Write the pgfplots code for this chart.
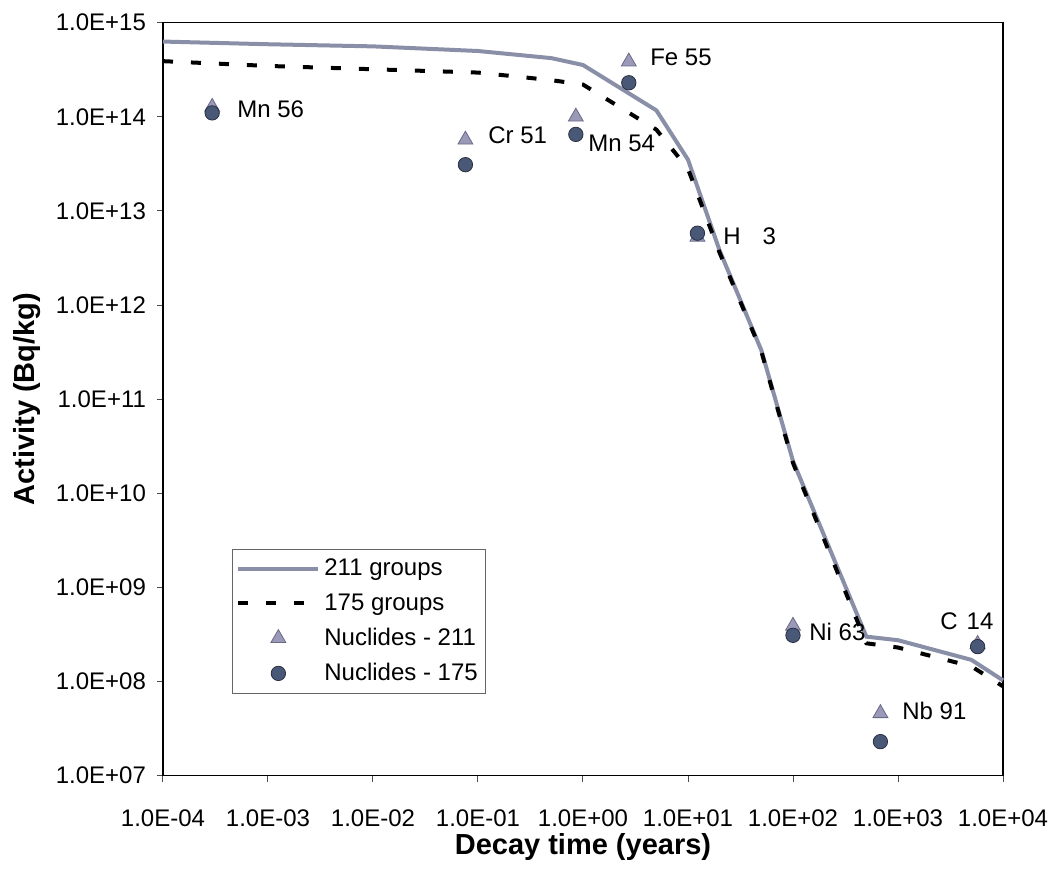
\documentclass[border=0pt]{standalone}
\usepackage{fontspec}
\setmainfont{Liberation Sans}
\usepackage{pgfplots}
\pgfplotsset{compat=1.18}
\definecolor{lineblue}{HTML}{8A8FA8}
\definecolor{trifill}{HTML}{9A9AB8}
\definecolor{tridraw}{HTML}{6A6A88}
\definecolor{circfill}{HTML}{4A5878}
\definecolor{circdraw}{HTML}{2A3040}
\begin{document}
\begin{tikzpicture}
\useasboundingbox (0,0) rectangle (527pt,435pt);
\begin{axis}[
  at={(81.5pt,47.15pt)}, anchor=south west,
  scale only axis, width=420pt, height=376.5pt,
  xmode=log, ymode=log,
  xmin=1e-4, xmax=1e4, ymin=1e7, ymax=1e15,
  axis line style={black, line width=0.8pt},
  tick align=outside, major tick length=3pt,
  xtick pos=bottom, ytick pos=left,
  minor tick num=0,
  xtick={1e-4,1e-3,1e-2,1e-1,1,1e1,1e2,1e3,1e4},
  xticklabels={1.0E-04,1.0E-03,1.0E-02,1.0E-01,1.0E+00,1.0E+01,1.0E+02,1.0E+03,1.0E+04},
  ytick={1e7,1e8,1e9,1e10,1e11,1e12,1e13,1e14,1e15},
  yticklabels={1.0E+07,1.0E+08,1.0E+09,1.0E+10,1.0E+11,1.0E+12,1.0E+13,1.0E+14,1.0E+15},
  xminorticks=false, yminorticks=false,
  tick style={black!70, line width=0.5pt},
  ticklabel style={font=\fontsize{12pt}{14pt}\selectfont},
  xticklabel style={yshift=-10.5pt},
  yticklabel style={xshift=-2pt},
  xlabel={Decay time (years)},
  ylabel={Activity (Bq/kg)},
  every axis x label/.style={at={(axis description cs:0.5,-0.0943)}, anchor=center,
    font=\bfseries\fontsize{14.5pt}{16pt}\selectfont},
  every axis y label/.style={at={(axis description cs:-0.162,0.5)}, rotate=90, anchor=center,
    font=\bfseries\fontsize{14.5pt}{16pt}\selectfont},
  legend style={at={(axis description cs:0.082,0.3015)}, anchor=north west,
    draw=black!60, line width=0.5pt, font=\fontsize{12pt}{14pt}\selectfont,
    inner xsep=2pt, inner ysep=3pt, row sep=3.4pt,
    cells={anchor=west}},
  legend image code/.code={\draw[mark repeat=2,mark phase=2,#1] plot coordinates {(0pt,0pt) (20pt,0pt) (40pt,0pt)};},
  clip=false,
]
\addplot[lineblue, line width=2pt, mark=none] coordinates {
(1e-4,6.3e14) (1e-3,5.9e14) (1e-2,5.6e14) (0.1,5.0e14) (0.5,4.2e14) (1,3.55e14)
(5,1.17e14) (10,3.5e13) (20,3.8e12) (50,3.3e11) (100,2.2e10) (500,3.0e8)
(1000,2.75e8) (5000,1.7e8) (10000,1.03e8)};
\addlegendentry{211 groups}
\addplot[black, line width=2pt, dash pattern=on 5pt off 9pt, mark=none] coordinates {
(1e-4,3.9e14) (1e-3,3.47e14) (1e-2,3.2e14) (0.1,2.95e14) (0.5,2.45e14) (1,2.2e14)
(5,7.3e13) (10,2.8e13) (20,3.6e12) (50,3.2e11) (100,2.1e10) (500,2.55e8)
(1000,2.3e8) (5000,1.45e8) (10000,8.9e7)};
\addlegendentry{175 groups}
\addplot[only marks, mark=triangle*, mark size=4.3pt, mark options={fill=trifill, draw=tridraw, line width=0.4pt}] coordinates {
(2.94e-4,1.27e14) (0.0759,5.7e13) (0.855,1.0e14) (2.73,3.85e14) (12.3,5.3e12)
(100,3.9e8) (680,4.6e7) (5730,2.5e8)};
\addlegendentry{Nuclides - 211}
\addplot[only marks, mark=*, mark size=3.6pt, mark options={fill=circfill, draw=circdraw, line width=0.4pt}] coordinates {
(2.94e-4,1.1e14) (0.0759,3.1e13) (0.855,6.5e13) (2.73,2.3e14) (12.3,5.8e12)
(100,3.1e8) (680,2.3e7) (5730,2.35e8)};
\addlegendentry{Nuclides - 175}
\begin{scope}[every node/.style={anchor=west, inner sep=0pt, font=\fontsize{12pt}{14pt}\selectfont}]
\node at (axis cs:5.07e-4,1.21e14) {Mn 56};
\node at (axis cs:0.1245,6.43e13) {Cr 51};
\node at (axis cs:1.116,5.28e13) {Mn 54};
\node at (axis cs:4.34,4.33e14) {Fe 55};
\node at (axis cs:21.5,5.45e12) {H\hspace{11pt}3};
\node at (axis cs:142,3.4e8) {Ni 63};
\node at (axis cs:2512,4.35e8) {C\hspace{4.5pt}14};
\node at (axis cs:1091,4.82e7) {Nb 91};
\end{scope}
\end{axis}
\end{tikzpicture}
\end{document}
